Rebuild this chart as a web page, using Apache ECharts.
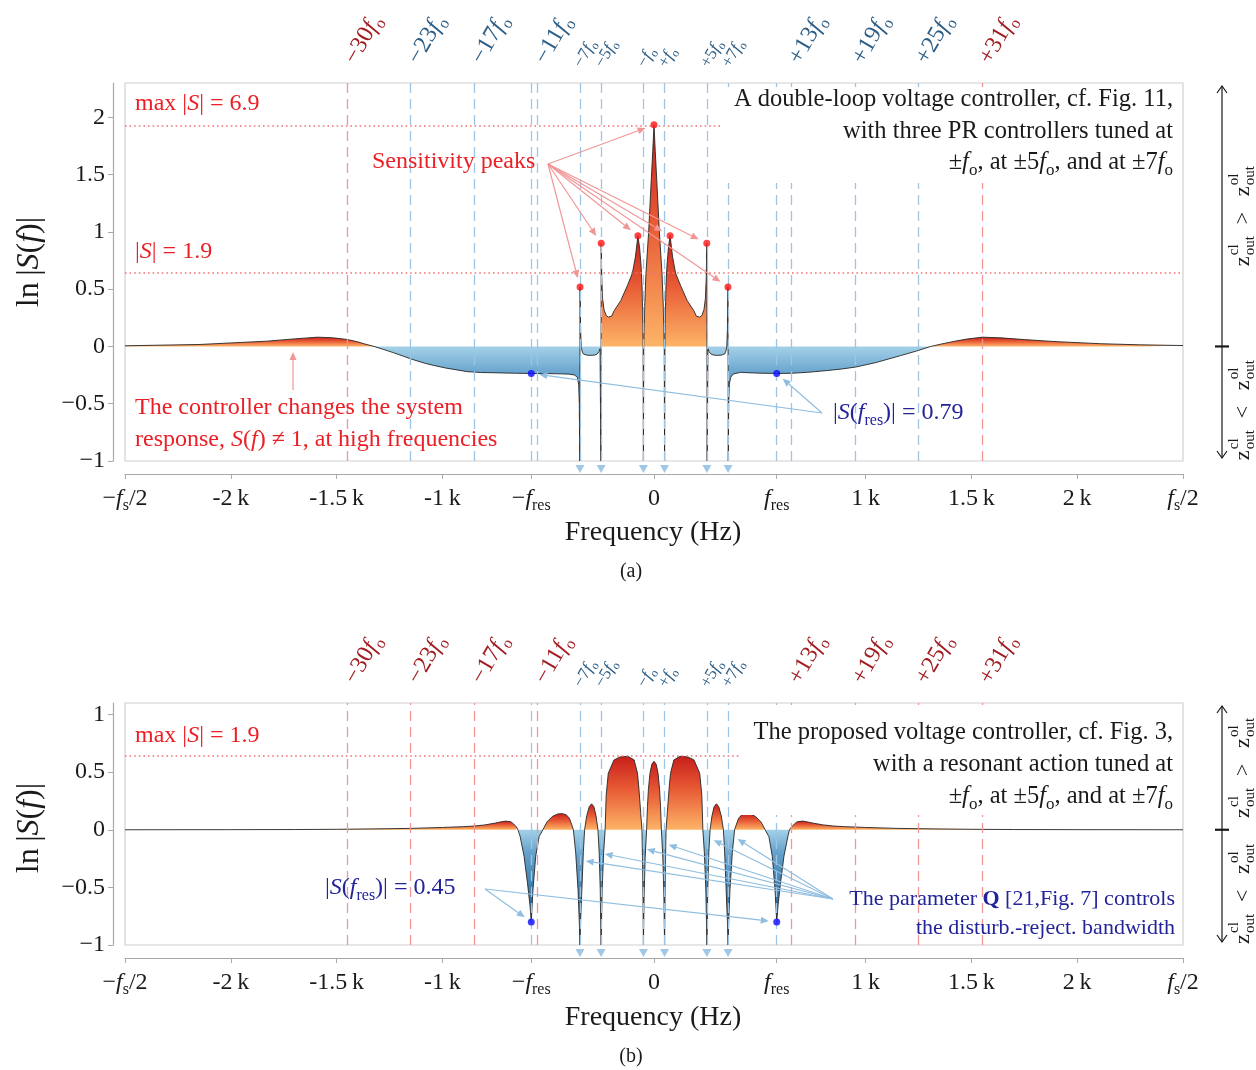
<!DOCTYPE html>
<html>
<head>
<meta charset="utf-8">
<title>Sensitivity function</title>
<script src="https://cdn.jsdelivr.net/npm/echarts@6.0.0/dist/echarts.min.js"></script>
<style>
    html, body { margin: 0; padding: 0; background: #fff; }
    #chart { width: 1256px; height: 1070px; }
</style>
</head>
<body>
<div id="chart"></div>
<script>
// ln|S(f)|, f in Hz
const curveA = [
    [-2500, 0.006], [-2150, 0.017], [-1830, 0.046], [-1700, 0.066], [-1590, 0.081],
    [-1520, 0.076], [-1450, 0.061], [-1400, 0.04], [-1370, 0.023], [-1323, 0],
    [-1280, -0.025], [-1230, -0.055], [-1180, -0.088], [-1130, -0.12], [-1080, -0.148],
    [-1040, -0.166], [-980, -0.19], [-930, -0.205], [-882, -0.22], [-820, -0.227],
    [-724, -0.231], [-650, -0.234], [-580, -0.236], [-500, -0.237], [-440, -0.239],
    [-400, -0.242], [-375, -0.25], [-362, -0.27], [-356, -0.33], [-353, -0.5], [-351, -1],
    [-349.5, 0.52], [-347, 0.15], [-344, 0], [-340, -0.04], [-334, -0.065], [-320, -0.075],
    [-300, -0.078], [-280, -0.075], [-268, -0.065], [-260, -0.045], [-255, -0.02], [-251, -1],
    [-249.5, 0.9], [-247, 0.6], [-243, 0.42], [-236, 0.32], [-226, 0.27], [-216, 0.256],
    [-200, 0.265], [-189, 0.31], [-157, 0.4], [-126, 0.53], [-102, 0.64], [-88, 0.78],
    [-76, 0.966], [-68, 0.86], [-61, 0.7], [-56, 0.5], [-53, 0.2], [-51.5, 0], [-50, -1],
    [-48.5, 0], [-44, 0.35], [-38, 0.634], [-25, 1.01], [-13, 1.45], [-6, 1.7], [0, 1.935],
    [6, 1.7], [13, 1.45], [25, 1.01], [38, 0.634], [44, 0.35], [48.5, 0],
    [50, -1], [51.5, 0], [53, 0.2], [56, 0.5], [61, 0.7], [68, 0.86], [76, 0.966],
    [88, 0.78], [102, 0.64], [126, 0.53], [157, 0.4], [189, 0.31], [200, 0.265],
    [216, 0.256], [226, 0.27], [236, 0.32], [243, 0.42], [247, 0.6], [249.5, 0.9],
    [251, -1], [255, -0.02], [260, -0.045], [268, -0.065], [280, -0.075], [300, -0.078],
    [320, -0.075], [334, -0.065], [340, -0.04], [344, 0], [347, 0.15], [349.5, 0.52],
    [351, -1], [353, -0.5], [356, -0.33], [362, -0.27], [375, -0.24], [410, -0.226],
    [440, -0.229], [500, -0.233], [580, -0.236], [650, -0.234], [724, -0.226], [820, -0.21],
    [882, -0.198], [953, -0.18], [1050, -0.14], [1165, -0.08], [1240, -0.04], [1308, 0],
    [1360, 0.022], [1420, 0.045], [1480, 0.065], [1552, 0.081], [1640, 0.075], [1750, 0.06],
    [1900, 0.042], [2110, 0.024], [2300, 0.014], [2500, 0.008]
];

const curveB = [
    [-2500, 0], [-2000, 0.001], [-1700, 0.002], [-1500, 0.004], [-1300, 0.008],
    [-1150, 0.012], [-1000, 0.02], [-900, 0.027], [-850, 0.032], [-800, 0.042],
    [-750, 0.058], [-720, 0.07], [-700, 0.075], [-675, 0.068], [-655, 0.035], [-645, 0.01],
    [-640, 0], [-633, -0.055], [-614, -0.23], [-598, -0.46], [-586, -0.66], [-580, -0.8],
    [-572, -0.52], [-559, -0.23], [-543, -0.06], [-525, 0], [-505, 0.07], [-480, 0.115],
    [-455, 0.137], [-433, 0.14], [-415, 0.13], [-400, 0.1], [-390, 0.05], [-381, 0],
    [-370, -0.2], [-359, -0.52], [-353, -0.8], [-350, -1], [-347, -0.8], [-341, -0.52],
    [-334, -0.2], [-328, 0], [-318, 0.12], [-306, 0.2], [-295, 0.225], [-284, 0.2],
    [-274, 0.12], [-265, 0], [-259, -0.2], [-254, -0.52], [-252, -0.8], [-250, -1],
    [-248, -0.8], [-245, -0.52], [-238, -0.2], [-231, 0], [-226, 0.3], [-216, 0.49],
    [-189, 0.606], [-160, 0.632], [-123, 0.637], [-94, 0.606], [-78, 0.49], [-71, 0.35],
    [-63, 0.15], [-57, 0], [-54, -0.3], [-52, -0.6], [-50, -1], [-47, -0.6], [-42, -0.25],
    [-35, 0], [-31, 0.2], [-26.5, 0.35], [-19, 0.49], [-10, 0.57], [0, 0.594],
    [10, 0.57], [19, 0.49], [26.5, 0.35], [31, 0.2], [35, 0],
    [42, -0.25], [47, -0.6], [50, -1], [52, -0.6], [54, -0.3], [57, 0], [63, 0.15],
    [71, 0.35], [78, 0.49], [94, 0.606], [123, 0.637], [160, 0.632], [189, 0.606],
    [216, 0.49], [226, 0.3], [231, 0], [238, -0.2], [245, -0.52], [248, -0.8], [250, -1],
    [252, -0.8], [254, -0.52], [259, -0.2], [265, 0], [274, 0.12], [284, 0.2], [295, 0.225],
    [306, 0.2], [318, 0.12], [328, 0], [334, -0.2], [341, -0.52], [347, -0.8], [350, -1],
    [353, -0.8], [359, -0.52], [370, -0.2], [381, 0], [390, 0.05], [400, 0.1], [415, 0.13],
    [433, 0.14], [455, 0.137], [480, 0.115], [505, 0.07], [525, 0], [543, -0.06],
    [559, -0.23], [572, -0.52], [580, -0.8], [586, -0.66], [598, -0.46], [614, -0.23],
    [633, -0.055], [640, 0], [645, 0.01], [655, 0.035], [675, 0.068], [700, 0.075],
    [720, 0.07], [750, 0.058], [800, 0.042], [850, 0.032], [900, 0.027], [1000, 0.02],
    [1150, 0.012], [1300, 0.008], [1500, 0.004], [1700, 0.002], [2000, 0.001], [2500, 0]
];

const harmonicOrders = [-30, -23, -17, -11, -7, -5, -1, 1, 5, 7, 13, 19, 25, 31];
const harmonicFreqs = [-1450, -1150, -850, -550, -350, -250, -50, 50, 250, 350, 650, 950, 1250, 1550];
const redHarmonicsA = [-30, 31];
const redHarmonicsB = [-30, -23, -17, -11, 13, 19, 25, 31];
const notchFreqs = [-350, -250, -50, 50, 250, 350];
const peakFreqsA = [-349.5, -249.5, -76, 0, 76, 249.5, 349.5];
const fres = 580;
const maxSA = 6.9, levelSA = 1.9, maxSB = 1.9;

const xTickValues = [-2500, -2000, -1500, -1000, -580, 0, 580, 1000, 1500, 2000, 2500];
const xTickLabels = ['{n|\u2212}{i|f}{s|s}{n|/2}', '-2\u2009k', '-1.5\u2009k', '-1\u2009k',
    '{n|\u2212}{i|f}{s|res}', '0', '{i|f}{s|res}', '1\u2009k', '1.5\u2009k', '2\u2009k', '{i|f}{s|s}{n|/2}'];
const yTicksA = [-1, -0.5, 0, 0.5, 1, 1.5, 2];
const yTicksB = [-1, -0.5, 0, 0.5, 1];

const FONT = 'Liberation Serif';
const RED = '#ea2026', NAVY = '#23239a', DARKRED = '#a11d22', DARKBLUE = '#2d5e86', INK = '#1a1a1a';
const DASH_BLUE = '#9cc5e6', DASH_RED = '#f29696';
const POS = [{ offset: 0, color: '#c81f1b' }, { offset: 0.45, color: '#e85b35' }, { offset: 1, color: '#fdb467' }];
const NEG = [{ offset: 0, color: '#a4d1e8' }, { offset: 0.25, color: '#64a1cc' }, { offset: 1, color: '#1e5b8b' }];

function richStyles(color, size, key) {
    const sub = Math.round(size * 0.68);
    const lh = Math.round(size * 1.3);
    const mk = extra => Object.assign({ fontFamily: FONT, fontSize: size, lineHeight: lh, [key]: color }, extra);
    return {
        n: mk({}),
        i: mk({ fontStyle: 'italic' }),
        b: mk({ fontWeight: 'bold' }),
        s: mk({ fontSize: sub, lineHeight: sub, verticalAlign: 'bottom' })
    };
}

// split the curve into lobes of one sign so each lobe gets its own shading
function splitLobes(curve) {
    const pts = [];
    curve.forEach(([f, v], k) => {
        if (k > 0) {
            const [f0, v0] = pts[pts.length - 1];
            if (v0 * v < 0) pts.push([f0 + (f - f0) * v0 / (v0 - v), 0]);
        }
        pts.push([f, v]);
    });
    const lobes = [];
    let cur = [pts[0]], sign = Math.sign(pts[0][1]);
    for (let k = 1; k < pts.length; k++) {
        const p = pts[k];
        cur.push(p);
        if (!sign) sign = Math.sign(p[1]);
        if (p[1] === 0) {
            if (sign) lobes.push({ sign, data: cur });
            cur = [p];
            sign = 0;
        }
    }
    if (sign && cur.length > 1) lobes.push({ sign, data: cur });
    return lobes;
}

const valueAt = (curve, f) => curve.find(p => p[0] === f)[1];

function xAxisFor(gi) {
    return {
        type: 'value', gridIndex: gi, min: -2500, max: 2500, offset: 13,
        axisLine: { show: true, onZero: false, lineStyle: { color: '#a9a9a9', width: 1.2 } },
        axisTick: { show: true, length: 5, customValues: xTickValues, lineStyle: { color: '#a9a9a9' } },
        axisLabel: {
            customValues: xTickValues, margin: 9, color: INK, fontFamily: FONT, fontSize: 24, lineHeight: 31,
            formatter: v => { const k = xTickValues.indexOf(v); return k >= 0 ? xTickLabels[k] : ''; },
            rich: richStyles(INK, 24, 'color')
        },
        splitLine: { show: false }
    };
}

function yAxisFor(gi, min, max, ticks) {
    return {
        type: 'value', gridIndex: gi, min: min, max: max, offset: 12,
        axisLine: { show: true, onZero: false, lineStyle: { color: '#a9a9a9', width: 1.2 } },
        axisTick: { show: true, length: 5, customValues: ticks, lineStyle: { color: '#a9a9a9' } },
        axisLabel: {
            customValues: ticks, margin: 8, color: INK, fontFamily: FONT, fontSize: 24,
            formatter: v => v < 0 ? '\u2212' + Math.abs(v) : String(v)
        },
        splitLine: { show: false }
    };
}

function panelSeries(gi, curve, yMin, redOrders, hLines, peaks, fresVal) {
    const series = splitLobes(curve).map(l => ({
        type: 'line', xAxisIndex: gi, yAxisIndex: gi, data: l.data, symbol: 'none', silent: true, z: 2,
        lineStyle: { width: 0 },
        areaStyle: { opacity: 1, color: new echarts.graphic.LinearGradient(0, 0, 0, 1, l.sign > 0 ? POS : NEG) }
    }));

    const dash = { type: [10, 6], width: 1.3 };
    const marks = harmonicOrders.map((n, k) => ({
        xAxis: harmonicFreqs[k],
        lineStyle: Object.assign({ color: redOrders.includes(n) ? DASH_RED : DASH_BLUE }, dash)
    }));
    marks.push({ xAxis: -fresVal, lineStyle: Object.assign({ color: DASH_BLUE }, dash) });
    marks.push({ xAxis: fresVal, lineStyle: Object.assign({ color: DASH_BLUE }, dash) });
    hLines.forEach(y => marks.push({ yAxis: y, lineStyle: { color: '#f07474', type: [1.6, 3], width: 1.6 } }));

    series.push({
        type: 'line', xAxisIndex: gi, yAxisIndex: gi, data: curve, symbol: 'none', silent: true, z: 4,
        lineStyle: { color: '#262626', width: 0.9 },
        markLine: { silent: true, symbol: ['none', 'none'], label: { show: false }, data: marks }
    });

    // clipped notches
    series.push({
        type: 'scatter', xAxisIndex: gi, yAxisIndex: gi, clip: false, silent: true, z: 6,
        symbol: 'triangle', symbolRotate: 180, symbolSize: [9, 8], symbolOffset: [0, 8],
        itemStyle: { color: '#88b9de' },
        data: notchFreqs.map(f => [f, yMin])
    });

    if (peaks.length) {
        series.push({
            type: 'scatter', xAxisIndex: gi, yAxisIndex: gi, silent: true, z: 6, symbolSize: 7,
            itemStyle: { color: '#ff1414' },
            data: peaks.map(f => [f, valueAt(curve, f)])
        });
    }
    series.push({
        type: 'scatter', xAxisIndex: gi, yAxisIndex: gi, silent: true, z: 6, symbolSize: 7,
        itemStyle: { color: '#0a0aff' },
        data: [[-fresVal, valueAt(curve, -fresVal)], [fresVal, valueAt(curve, fresVal)]]
    });
    return series;
}

let chart = echarts.init(document.getElementById('chart'));
chart.setOption({
    animation: false,
    textStyle: { fontFamily: FONT },
    grid: [
        { left: 125, top: 83, width: 1058, height: 378, show: true, borderColor: '#d0d0d0', borderWidth: 1.2 },
        { left: 125, top: 703, width: 1058, height: 242, show: true, borderColor: '#d0d0d0', borderWidth: 1.2 }
    ],
    xAxis: [xAxisFor(0), xAxisFor(1)],
    yAxis: [yAxisFor(0, -1, 2.3, yTicksA), yAxisFor(1, -1, 1.1, yTicksB)],
    series: [
        ...panelSeries(0, curveA, -1, redHarmonicsA, [Math.log(maxSA), Math.log(levelSA)], peakFreqsA, fres),
        ...panelSeries(1, curveB, -1, redHarmonicsB, [Math.log(maxSB)], [], fres)
    ]
});

// annotations
const P = (gi, x, y) => chart.convertToPixel({ gridIndex: gi }, [x, y]);

function txt(x, y, text, color, size, align, extra) {
    return Object.assign({
        type: 'text', x: x, y: y, z: 50, silent: true,
        style: {
            text: text, fill: color, fontFamily: FONT, fontSize: size, lineHeight: Math.round(size * 1.3),
            align: align || 'left', verticalAlign: 'middle', rich: richStyles(color, size, 'fill')
        }
    }, extra || {});
}

function arrow(p0, p1, color, gap) {
    const dx = p1[0] - p0[0], dy = p1[1] - p0[1];
    const len = Math.hypot(dx, dy);
    const ux = dx / len, uy = dy / len;
    const tip = [p1[0] - ux * gap, p1[1] - uy * gap];
    const hl = 8, hw = 3.5;
    const base = [tip[0] - ux * hl, tip[1] - uy * hl];
    return [
        { type: 'line', z: 40, silent: true, shape: { x1: p0[0], y1: p0[1], x2: base[0], y2: base[1] },
          style: { stroke: color, lineWidth: 1.2 } },
        { type: 'polygon', z: 40, silent: true,
          shape: { points: [tip, [base[0] - uy * hw, base[1] + ux * hw], [base[0] + uy * hw, base[1] - ux * hw]] },
          style: { fill: color } }
    ];
}

// rotated harmonic labels above each panel
function harmonicLabels(gi, yMax, redOrders) {
    const top = P(gi, 0, yMax)[1];
    return harmonicOrders.map((n, k) => {
        const small = Math.abs(n) <= 7;
        const size = small ? 17 : 24;
        const color = redOrders.includes(n) ? DARKRED : DARKBLUE;
        const num = Math.abs(n) === 1 ? '' : String(Math.abs(n));
        const x = P(gi, harmonicFreqs[k], 0)[0];
        return txt(x + (small ? -2 : 3), top - (small ? 17 : 21),
            '{n|' + (n < 0 ? '\u2212' : '+') + num + '}{i|f}{s|o}', color, size, 'left',
            { rotation: 60 * Math.PI / 180 });
    });
}

function zLabel(cx, cy, rel) {
    const parts = [
        { t: 'z', x: -56, y: 0, s: 22 }, { t: 'cl', x: -45, y: -9, s: 15 }, { t: 'out', x: -45, y: 7, s: 15 },
        { t: rel, x: -14, y: 0, s: 22 },
        { t: 'z', x: 14, y: 0, s: 22 }, { t: 'ol', x: 25, y: -9, s: 15 }, { t: 'out', x: 25, y: 7, s: 15 }
    ];
    return {
        type: 'group', x: cx, y: cy, rotation: Math.PI / 2, z: 50,
        children: parts.map(p => ({
            type: 'text', x: p.x, y: p.y, z: 50, silent: true,
            style: { text: p.t, fill: INK, fontFamily: FONT, fontSize: p.s, align: 'left', verticalAlign: 'middle' }
        }))
    };
}

function sideArrow(gi, yTop, yBot) {
    const top = P(gi, 2500, yTop)[1] + 3, bot = P(gi, 2500, yBot)[1] - 3, zero = P(gi, 2500, 0)[1];
    const x = 1222;
    return [
        { type: 'line', z: 40, silent: true, shape: { x1: x, y1: top, x2: x, y2: bot }, style: { stroke: INK, lineWidth: 1.2 } },
        { type: 'polyline', z: 40, silent: true, shape: { points: [[x - 5, top + 7], [x, top], [x + 5, top + 7]] }, style: { stroke: INK, lineWidth: 1.2, fill: null } },
        { type: 'polyline', z: 40, silent: true, shape: { points: [[x - 5, bot - 7], [x, bot], [x + 5, bot - 7]] }, style: { stroke: INK, lineWidth: 1.2, fill: null } },
        { type: 'line', z: 40, silent: true, shape: { x1: x - 7, y1: zero, x2: x + 7, y2: zero }, style: { stroke: INK, lineWidth: 2.2 } },
        zLabel(1243, (top + zero) / 2 - 6, '>'),
        zLabel(1243, (zero + bot) / 2 + 2, '<')
    ];
}

const g = [];
const fo = '{i|f}{s|o}';

// panel (a)
g.push({ type: 'rect', z: 30, silent: true, shape: { x: 720, y: 87, width: 461, height: 96 }, style: { fill: '#fff' } });
g.push(txt(1173, 100, 'A double-loop voltage controller, cf. Fig. 11,', INK, 24.5, 'right'));
g.push(txt(1173, 132, 'with three PR controllers tuned at', INK, 24.5, 'right'));
g.push(txt(1173, 163, '\u00b1' + fo + ', at \u00b15' + fo + ', and at \u00b17' + fo, INK, 24.5, 'right'));
g.push(txt(135, 104, 'max |{i|S}| = ' + maxSA, RED, 24));
g.push(txt(135, 252, '|{i|S}| = ' + levelSA, RED, 24));
g.push(txt(372, 162, 'Sensitivity peaks', RED, 24));
peakFreqsA.forEach(f => g.push(...arrow([548, 164], P(0, f, valueAt(curveA, f)), '#f19696', 9)));
g.push(...arrow([293, 390], [293, 352], '#f19696', 0));
g.push(txt(135, 408, 'The controller changes the system', RED, 24));
g.push(txt(135, 440, 'response, {i|S}({i|f}) \u2260 1, at high frequencies', RED, 24));
g.push(txt(833, 413, '|{i|S}({i|f}{s|res})| = 0.79', NAVY, 24));
[-fres, fres].forEach(f => g.push(...arrow([822, 413], P(0, f, valueAt(curveA, f)), '#8fbee0', 8)));
g.push(txt(30, 262, 'ln\u2009|{i|S}({i|f})|', INK, 32, 'center', { rotation: Math.PI / 2 }));
g.push(txt(653, 533, 'Frequency (Hz)', INK, 28, 'center'));
g.push(txt(631, 572, '(a)', INK, 20, 'center'));
g.push(...harmonicLabels(0, 2.3, redHarmonicsA));
g.push(...sideArrow(0, 2.3, -1));

// panel (b)
const qTargetsB = [[-323, -0.27], [-233, -0.21], [-34, -0.17], [69, -0.13], [282, -0.09], [395, -0.08]];
g.push({ type: 'rect', z: 30, silent: true, shape: { x: 740, y: 711, width: 441, height: 104 }, style: { fill: '#fff' } });
g.push(txt(1173, 733, 'The proposed voltage controller, cf. Fig. 3,', INK, 24.5, 'right'));
g.push(txt(1173, 765, 'with a resonant action tuned at', INK, 24.5, 'right'));
g.push(txt(1173, 797, '\u00b1' + fo + ', at \u00b15' + fo + ', and at \u00b17' + fo, INK, 24.5, 'right'));
g.push(txt(135, 736, 'max |{i|S}| = ' + maxSB, RED, 24));
g.push(txt(325, 888, '|{i|S}({i|f}{s|res})| = 0.45', NAVY, 24));
[-fres, fres].forEach(f => g.push(...arrow([485, 889], P(1, f, valueAt(curveB, f)), '#8fbee0', 8)));
g.push(txt(1175, 899, 'The parameter {b|Q} [21,Fig. 7] controls', NAVY, 22, 'right'));
g.push(txt(1175, 928, 'the disturb.-reject. bandwidth', NAVY, 22, 'right'));
qTargetsB.forEach(t => g.push(...arrow([833, 899], P(1, t[0], t[1]), '#8fbee0', 0)));
g.push(txt(30, 828, 'ln\u2009|{i|S}({i|f})|', INK, 32, 'center', { rotation: Math.PI / 2 }));
g.push(txt(653, 1018, 'Frequency (Hz)', INK, 28, 'center'));
g.push(txt(631, 1057, '(b)', INK, 20, 'center'));
g.push(...harmonicLabels(1, 1.1, redHarmonicsB));
g.push(...sideArrow(1, 1.1, -1));

chart.setOption({ graphic: g });
</script>
</body>
</html>
